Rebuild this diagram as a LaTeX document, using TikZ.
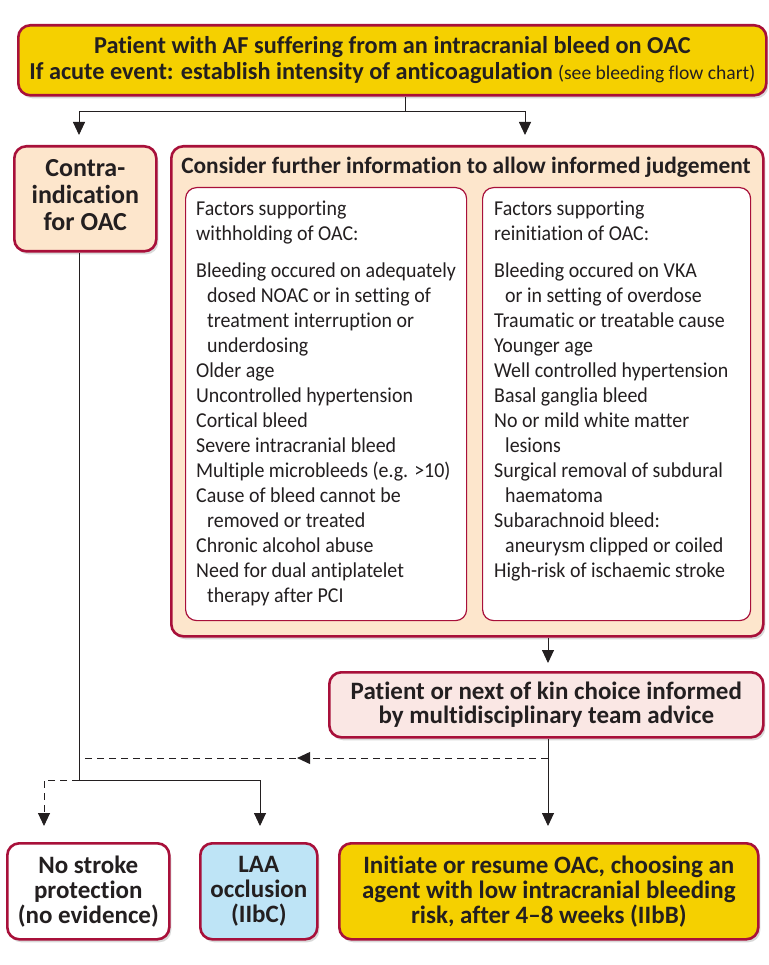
\documentclass[tikz,border=0pt]{standalone}
\usepackage{fontspec}
\setmainfont{Carlito}[Ligatures=NoCommon]
\newfontfamily\listfont{Carlito}[FakeStretch=0.94, Ligatures=NoCommon]
\usetikzlibrary{arrows.meta, calc, positioning, shadows, decorations.markings}
\definecolor{flowyellow}{RGB}{245,208,0}
\definecolor{flowred}{RGB}{168,16,58}
\definecolor{flowpeach}{RGB}{253,230,204}
\definecolor{flowpink}{RGB}{250,231,228}
\definecolor{flowblue}{RGB}{190,228,246}
\definecolor{inkgray}{RGB}{35,31,32}

\begin{document}
\begin{tikzpicture}[x=1pt, y=-1pt,
    box/.style={draw=flowred, line width=2.6pt, rounded corners=12pt, text=inkgray,
        inner sep=0pt, align=center, anchor=north west,
        font=\fontsize{25}{25}\selectfont\bfseries,
        drop shadow={shadow xshift=2pt, shadow yshift=-3pt, opacity=0.25, fill=black!60}},
    inbox/.style={draw=flowred, line width=1.2pt, rounded corners=11pt, fill=white,
        inner sep=0pt, anchor=north west},
    listtxt/.style={text=inkgray, inner sep=0pt, align=left, anchor=north west,
        font=\listfont\fontsize{21.2}{25}\selectfont},
    arr/.style={-{Triangle[width=12pt,length=13pt]}, line width=0.9pt, draw=inkgray},
    link/.style={line width=0.9pt, draw=inkgray},
    dashlink/.style={line width=0.9pt, draw=inkgray, dashed, dash pattern=on 7pt off 5pt}]
    \useasboundingbox (0,0) rectangle (768,965);

    % Start
    \node[box, fill=flowyellow, minimum width=748, minimum height=70, font=\fontsize{24.3}{26}\selectfont\bfseries] (top) at (17,24)
        {Patient with AF suffering from an intracranial bleed on OAC\\
         If acute event: establish intensity of anticoagulation {\mdseries\fontsize{19.6}{26}\selectfont(see bleeding flow chart)}};

    % Second row
    \node[box, fill=flowpeach, minimum width=142, minimum height=105] (contra) at (13,145) {};
    \node[text=inkgray, align=center, font=\fontsize{26}{27}\selectfont\bfseries] (contratxt) at ([yshift=4pt]contra.center)
        {Contra-\\indication\\for OAC};
    \node[box, fill=flowpeach, minimum width=592, minimum height=490] (consider) at (170,145) {};
    \node[text=inkgray, font=\fontsize{23.4}{25}\selectfont\bfseries] (considertitle) at (466,167)
        {Consider further information to allow informed judgement};

    % Factor lists
    \node[inbox, minimum width=281, minimum height=433] (withhold) at (185,187) {};
    \node[inbox, minimum width=268, minimum height=433] (reinit) at (482,187) {};
    \node[listtxt] (withholdtxt) at (196,201)
        {Factors supporting\\ withholding of OAC:\\[12pt]
         Bleeding occured on adequately\\
         \hspace*{11pt}dosed NOAC or in setting of\\
         \hspace*{11pt}treatment interruption or\\
         \hspace*{11pt}underdosing\\
         Older age\\
         Uncontrolled hypertension\\
         Cortical bleed\\
         Severe intracranial bleed\\
         Multiple microbleeds (e.g. >10)\\
         Cause of bleed cannot be\\
         \hspace*{11pt}removed or treated\\
         Chronic alcohol abuse\\
         Need for dual antiplatelet\\
         \hspace*{11pt}therapy after PCI};
    \node[listtxt] (reinittxt) at (494,201)
        {Factors supporting\\ reinitiation of OAC:\\[12pt]
         Bleeding occured on VKA\\
         \hspace*{11pt}or in setting of overdose\\
         Traumatic or treatable cause\\
         Younger age\\
         Well controlled hypertension\\
         Basal ganglia bleed\\
         No or mild white matter\\
         \hspace*{11pt}lesions\\
         Surgical removal of subdural\\
         \hspace*{11pt}haematoma\\
         Subarachnoid bleed:\\
         \hspace*{11pt}aneurysm clipped or coiled\\
         High-risk of ischaemic stroke};

    % Decision
    \node[box, fill=flowpink, minimum width=434, minimum height=65, font=\fontsize{25}{24}\selectfont\bfseries] (choice) at (328,671)
        {Patient or next of kin choice informed\\by multidisciplinary team advice};

    % Outcomes
    \node[box, fill=white, minimum width=162, minimum height=96] (nostroke) at (6,842)
        {No stroke\\protection\\(no evidence)};
    \node[box, fill=flowblue, minimum width=117, minimum height=96] (laa) at (199,842)
        {LAA\\occlusion\\(IIbC)};
    \node[box, fill=flowyellow, minimum width=419, minimum height=96] (resume) at (338,842)
        {Initiate or resume OAC, choosing an\\agent with low intracranial bleeding\\risk, after 4--8 weeks (IIbB)};

    % Connectors
    \coordinate (split) at (405,111);
    \coordinate (leftx) at (79,0);
    \coordinate (midx) at (548,0);
    \coordinate (dashy) at (0,758);
    \coordinate (joiny) at (0,780);
    \coordinate (nsx) at (44,0);
    \coordinate (laax) at (260,0);
    \draw[link] (split |- top.south) -- (split);
    \draw[arr, shorten >=10pt] (split) -| (contra.north -| leftx);
    \draw[arr, shorten >=10pt] (split) -| (consider.north -| 525,0);
    \draw[link] (contra.south -| leftx) -- (leftx |- joiny);
    \draw[arr, shorten >=16pt] (leftx |- joiny) -| (laa.north -| laax);
    \draw[arr, dashlink, shorten >=16pt] (leftx |- joiny) -| (nostroke.north -| nsx);
    \draw[arr, shorten >=8pt] (consider.south -| midx) -- (choice.north -| midx);
    \draw[arr, shorten >=16pt] (choice.south -| midx) -- (resume.north -| midx);
    \draw[dashlink, postaction={decorate, decoration={markings,
        mark=at position 0.535 with {\arrow[solid]{Triangle[width=12pt,length=13pt]}}}}]
        (midx |- dashy) -- (leftx |- dashy);
\end{tikzpicture}
\end{document}
